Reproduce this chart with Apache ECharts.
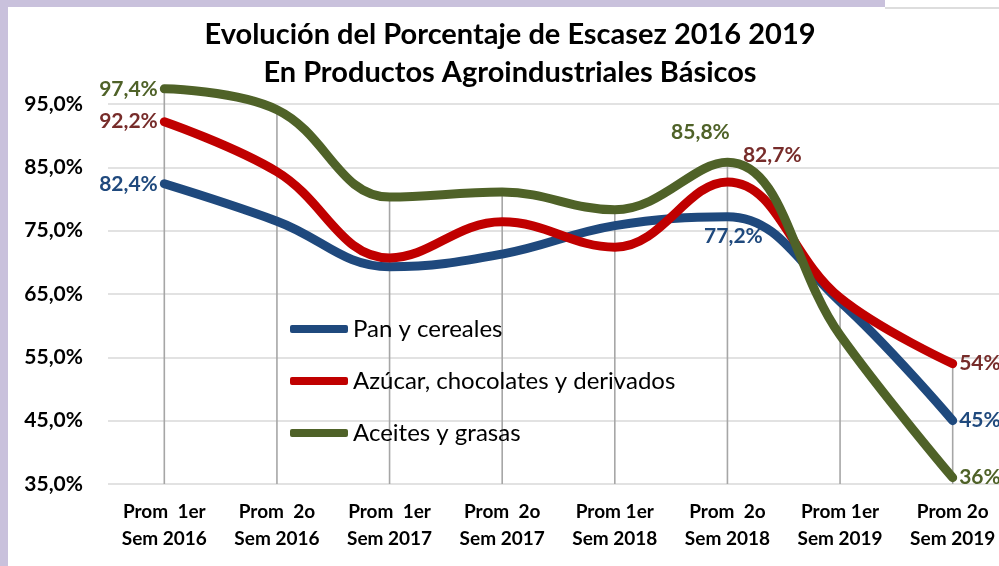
<!DOCTYPE html>
<html>
<head>
<meta charset="utf-8">
<script src="https://cdn.jsdelivr.net/npm/echarts@6/dist/echarts.min.js"></script>
<style>
  html, body { margin: 0; padding: 0; background: #c9c1dc; }
  #chart { width: 999px; height: 566px; }
</style>
</head>
<body>
<div id="chart"></div>
<script>
// categories (x axis)
const categories = [
  'Prom  1er\nSem 2016', 'Prom  2o\nSem 2016', 'Prom  1er\nSem 2017', 'Prom  2o\nSem 2017',
  'Prom 1er\nSem 2018', 'Prom  2o\nSem 2018', 'Prom 1er\nSem 2019', 'Prom 2o\nSem 2019'
]
const seriesNames = ['Pan y cereales', 'Azúcar, chocolates y derivados', 'Aceites y grasas']

// values (%)
const panValues = [82.4, 76.5, 69.3, 71.3, 75.8, 77.2, 63.8, 45]
const azucarValues = [92.2, 84.3, 70.7, 76.4, 72.4, 82.7, 64.4, 54]
const aceitesValues = [97.4, 94.1, 80.3, 81.1, 78.3, 85.8, 58.5, 36]

// data label texts ('' = no label)
const panLabels = ['82,4%', '', '', '', '', '77,2%', '', '45%']
const azucarLabels = ['92,2%', '', '', '', '', '82,7%', '', '54%']
const aceitesLabels = ['97,4%', '', '', '', '', '85,8%', '', '36%']

// y axis ticks
const yMin = 35
const yMax = 95
const yStep = 10

const FONT = 'Lato'
const lineColors = ['#1f497d', '#c00000', '#4f6228']
const labelColors = ['#1f497d', '#772c2a', '#4f6228']

// where each data label sits, by point index
const labelPlace = [
  { 0: { position: 'left', distance: 5 },
    5: { position: 'bottom', distance: 8, offset: [6, 0] },
    7: { position: 'right', distance: 5 } },
  { 0: { position: 'left', distance: 5 },
    5: { position: 'right', distance: 14, offset: [0, -27] },
    7: { position: 'right', distance: 5 } },
  { 0: { position: 'left', distance: 5 },
    5: { position: 'top', distance: 18, offset: [-27, 0] },
    7: { position: 'right', distance: 5 } }
]

function buildData(values, labels, k) {
  return values.map((v, i) => {
    if (!labels[i]) return v
    return {
      value: v,
      label: Object.assign({
        show: true,
        formatter: labels[i],
        color: labelColors[k],
        fontFamily: FONT,
        fontWeight: 'bold',
        fontSize: 21
      }, labelPlace[k][i])
    }
  })
}

const allValues = [panValues, azucarValues, aceitesValues]
const allLabels = [panLabels, azucarLabels, aceitesLabels]
const dropTops = categories.map((c, i) => Math.max(panValues[i], azucarValues[i], aceitesValues[i]))

const chart = echarts.init(document.getElementById('chart'))

let series = []
// drop lines from the highest point down to the axis
series.push({
  type: 'custom',
  name: 'drop',
  z: 1,
  silent: true,
  data: dropTops.map((v, i) => [i, v]),
  renderItem(params, api) {
    const top = api.coord([api.value(0), api.value(1)])
    const bottom = api.coord([api.value(0), yMin])
    return {
      type: 'line',
      shape: { x1: top[0], y1: top[1], x2: bottom[0], y2: bottom[1] },
      style: { stroke: '#a6a6a6', lineWidth: 1.6 }
    }
  }
})
for (let k = 0; k < 3; k++) {
  series.push({
    name: seriesNames[k],
    type: 'line',
    smooth: 0.4,
    clip: false,
    z: 3 + k,
    showSymbol: true,
    symbol: 'circle',
    symbolSize: 3,
    color: lineColors[k],
    lineStyle: { width: 9, color: lineColors[k], cap: 'round' },
    data: buildData(allValues[k], allLabels[k], k),
    animation: false
  })
}

chart.setOption({
  animation: false,
  backgroundColor: 'transparent',
  graphic: [
    {
      type: 'rect', z: -10, silent: true,
      shape: { x: 8, y: 7, width: 991, height: 559 },
      style: { fill: '#ffffff' }
    },
    {
      type: 'rect', z: -10, silent: true,
      shape: { x: 885, y: 0, width: 114, height: 8 },
      style: { fill: '#ffffff' }
    },
    {
      type: 'line', z: -9, silent: true,
      shape: { x1: 885, y1: 8, x2: 999, y2: 8 },
      style: { stroke: '#dddddd', lineWidth: 2 }
    }
  ],
  title: {
    text: 'Evolución del Porcentaje de Escasez 2016 2019\nEn Productos Agroindustriales Básicos',
    left: 510,
    textAlign: 'center',
    top: 16,
    padding: 0,
    textStyle: {
      fontFamily: FONT,
      fontWeight: 'bold',
      fontSize: 29,
      lineHeight: 38,
      color: '#000'
    }
  },
  legend: {
    data: seriesNames,
    orient: 'vertical',
    left: 290,
    top: 314,
    padding: 0,
    itemWidth: 58,
    itemHeight: 8,
    itemGap: 22,
    icon: 'roundRect',
    textStyle: {
      fontFamily: FONT,
      fontSize: 24,
      lineHeight: 30,
      color: '#000'
    }
  },
  grid: { left: 108, top: 104, width: 901, height: 380, outerBoundsMode: 'none' },
  xAxis: {
    type: 'category',
    data: categories,
    boundaryGap: true,
    axisLine: { show: false },
    axisTick: { show: false },
    axisLabel: {
      margin: 14,
      fontFamily: FONT,
      fontWeight: 'bold',
      fontSize: 19,
      lineHeight: 27,
      color: '#000',
      interval: 0
    }
  },
  yAxis: {
    type: 'value',
    min: yMin,
    max: yMax,
    interval: yStep,
    axisLine: { show: false },
    axisTick: { show: false },
    splitLine: { lineStyle: { color: '#d9d9d9', width: 1.6 } },
    axisLabel: {
      margin: 25,
      fontFamily: FONT,
      fontWeight: 'bold',
      fontSize: 21,
      color: '#000',
      formatter: v => v.toFixed(1).replace('.', ',') + '%'
    }
  },
  series: series
})
</script>
</body>
</html>
